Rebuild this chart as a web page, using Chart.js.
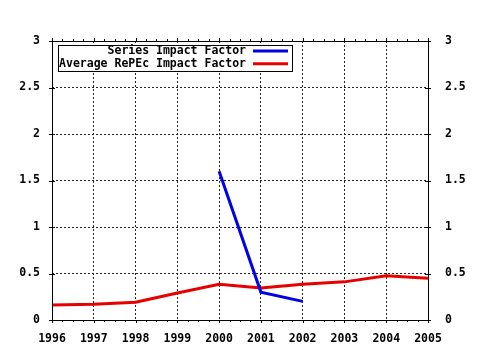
<!DOCTYPE html>
<html>
<head>
<meta charset="utf-8">
<script src="https://cdn.jsdelivr.net/npm/chart.js@4"></script>
<style>
  html, body { margin: 0; padding: 0; background: #fff; }
  canvas { display: block; }
</style>
</head>
<body>
<canvas id="myChart" width="480" height="350"></canvas>
<script>
// values
let years = [1996, 1997, 1998, 1999, 2000, 2001, 2002, 2003, 2004, 2005]
let seriesYears = [2000, 2001, 2002]
let seriesImpact = [1.6, 0.3, 0.2]
let avgImpact = [0.16, 0.17, 0.19, 0.29, 0.385, 0.345, 0.385, 0.41, 0.475, 0.45]
let yTicks = [0, 0.5, 1, 1.5, 2, 2.5, 3]
let seriesLabels = ['Series Impact Factor', 'Average RePEc Impact Factor']
let seriesColors = ['#0000e8', '#e80000']

let fontMono = 'bold 11.5px "DejaVu Sans Mono"'

function toPoints(xs, ys) {
  return xs.map((x, i) => ({ x: x, y: ys[i] }))
}

// box, little gnuplot style ticks and the legend
let frame = {
  id: 'frame',
  afterDraw(chart) {
    let ctx = chart.ctx
    let a = chart.chartArea
    let xs = chart.scales.x
    let ys = chart.scales.y
    ctx.save()
    ctx.strokeStyle = '#000'
    ctx.lineWidth = 1
    ctx.strokeRect(Math.round(a.left) + 0.5, Math.round(a.top) + 0.5, Math.round(a.right - a.left), Math.round(a.bottom - a.top))

    ctx.beginPath()
    for (let v = years[0]; v <= years[years.length - 1] + 0.001; v += 0.25) {
      let px = Math.round(xs.getPixelForValue(v)) + 0.5
      let major = Math.abs(v - Math.round(v)) < 0.01
      let len = major ? 3 : 2
      ctx.moveTo(px, a.bottom)
      ctx.lineTo(px, a.bottom + len)
      ctx.moveTo(px, a.top)
      ctx.lineTo(px, a.top - len)
    }
    yTicks.forEach((v) => {
      let py = Math.round(ys.getPixelForValue(v)) + 0.5
      ctx.moveTo(a.left - 3, py)
      ctx.lineTo(a.left + 3, py)
      ctx.moveTo(a.right - 3, py)
      ctx.lineTo(a.right + 3, py)
    })
    ctx.stroke()

    // legend
    let bx = 58.5, by = 45.5, bw = 234, bh = 26
    ctx.fillStyle = '#fff'
    ctx.fillRect(bx, by, bw, bh)
    ctx.strokeRect(bx, by, bw, bh)
    ctx.font = fontMono
    ctx.textAlign = 'right'
    ctx.textBaseline = 'middle'
    seriesLabels.forEach((t, i) => {
      let ty = 51 + i * 12.7
      ctx.fillStyle = '#000'
      ctx.fillText(t, 246, ty)
      ctx.strokeStyle = seriesColors[i]
      ctx.lineWidth = 3
      ctx.beginPath()
      ctx.moveTo(253, ty)
      ctx.lineTo(288, ty)
      ctx.stroke()
    })
    ctx.restore()
  }
}

let ctx = document.getElementById('myChart').getContext('2d')
let myChart = new Chart(ctx, {
  type: 'line',
  data: {
    datasets: [{
      label: seriesLabels[0],
      data: toPoints(seriesYears, seriesImpact),
      borderColor: seriesColors[0],
      borderWidth: 3,
      pointRadius: 0,
      tension: 0
    }, {
      label: seriesLabels[1],
      data: toPoints(years, avgImpact),
      borderColor: seriesColors[1],
      borderWidth: 3,
      pointRadius: 0,
      tension: 0
    }]
  },
  options: {
    responsive: false,
    animation: false,
    layout: { padding: { top: 41, left: 0, right: 0, bottom: 0 } },
    plugins: { legend: { display: false }, tooltip: { enabled: false } },
    scales: {
      x: {
        type: 'linear',
        min: years[0],
        max: years[years.length - 1],
        afterFit: (s) => { s.height = 30 },
        afterBuildTicks: (s) => { s.ticks = years.map((v) => ({ value: v })) },
        ticks: {
          color: '#000',
          font: { family: 'DejaVu Sans Mono', size: 11.5, weight: 'bold' },
          padding: 12,
          maxRotation: 0,
          autoSkip: false,
          callback: (v) => String(v)
        },
        grid: {
          drawTicks: false,
          color: (c) => (c.index === 0 || c.index === years.length - 1) ? 'transparent' : '#222'
        },
        border: { display: false, dash: [2, 2] }
      },
      y: {
        min: 0,
        max: 3,
        position: 'left',
        afterFit: (s) => { s.width = 52 },
        afterBuildTicks: (s) => { s.ticks = yTicks.map((v) => ({ value: v })) },
        ticks: {
          color: '#000',
          font: { family: 'DejaVu Sans Mono', size: 11.5, weight: 'bold' },
          padding: 12,
          callback: (v) => String(v)
        },
        grid: {
          drawTicks: false,
          color: (c) => (c.index === 0 || c.index === yTicks.length - 1) ? 'transparent' : '#222'
        },
        border: { display: false, dash: [2, 2] }
      },
      y2: {
        min: 0,
        max: 3,
        position: 'right',
        afterFit: (s) => { s.width = 52 },
        afterBuildTicks: (s) => { s.ticks = yTicks.map((v) => ({ value: v })) },
        ticks: {
          color: '#000',
          font: { family: 'DejaVu Sans Mono', size: 11.5, weight: 'bold' },
          padding: 17,
          callback: (v) => String(v)
        },
        grid: { display: false, drawTicks: false },
        border: { display: false }
      }
    }
  },
  plugins: [frame]
})
</script>
</body>
</html>
